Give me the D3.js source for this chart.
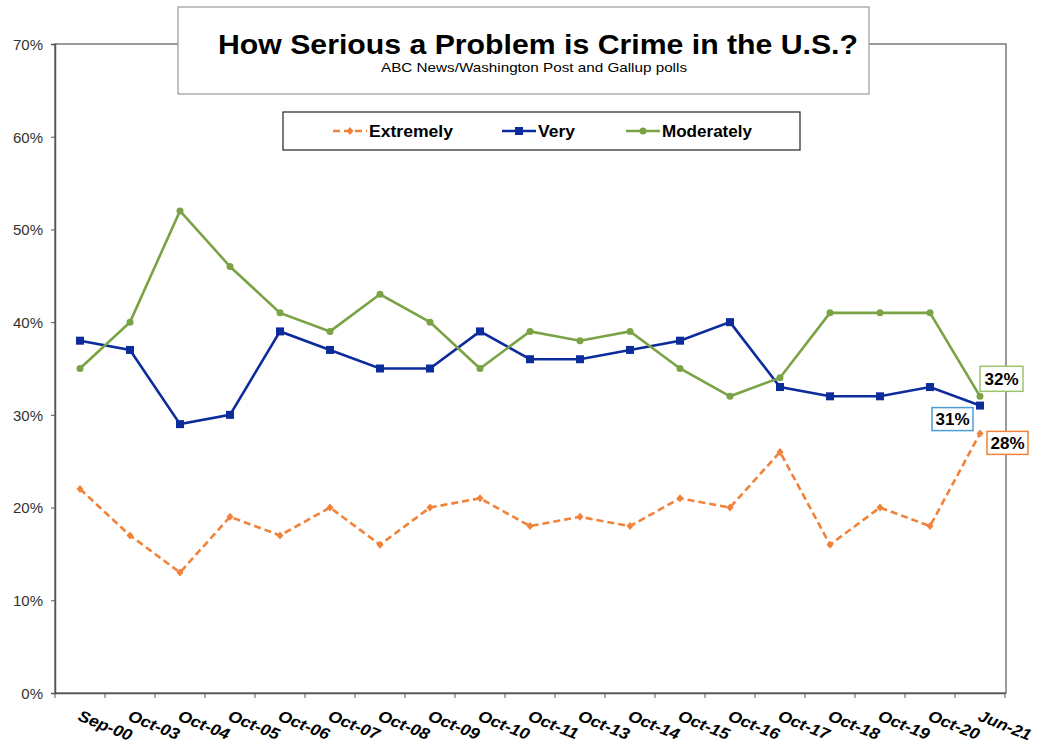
<!DOCTYPE html>
<html>
<head>
<meta charset="utf-8">
<script src="https://d3js.org/d3.v7.min.js"></script>
<style>
  body { margin: 0; background: #fff; }
  svg { display: block; font-family: Arial, "Liberation Sans", sans-serif; }
</style>
</head>
<body>
<svg id="chart" width="1037" height="745"></svg>
<script>
const categories = ['Sep-00', 'Oct-03', 'Oct-04', 'Oct-05', 'Oct-06', 'Oct-07', 'Oct-08', 'Oct-09', 'Oct-10',
  'Oct-11', 'Oct-13', 'Oct-14', 'Oct-15', 'Oct-16', 'Oct-17', 'Oct-18', 'Oct-19', 'Oct-20', 'Jun-21'];
const extremely = [22, 17, 13, 19, 17, 20, 16, 20, 21, 18, 19, 18, 21, 20, 26, 16, 20, 18, 28];
const very = [38, 37, 29, 30, 39, 37, 35, 35, 39, 36, 36, 37, 38, 40, 33, 32, 32, 33, 31];
const moderately = [35, 40, 52, 46, 41, 39, 43, 40, 35, 39, 38, 39, 35, 32, 34, 41, 41, 41, 32];
const yTicks = [0, 10, 20, 30, 40, 50, 60, 70];

const series = [
  { name: 'Extremely', values: extremely, color: '#F0823A', label: '#F0823A', dash: '7,4', marker: 'diamond' },
  { name: 'Very', values: very, color: '#0D2C9C', label: '#4A9ED8', dash: null, marker: 'square' },
  { name: 'Moderately', values: moderately, color: '#7BA346', label: '#9CC46E', dash: null, marker: 'circle' }
];

const svg = d3.select('#chart');
const plotLeft = 55, plotRight = 1005, plotTop = 44, plotBottom = 693;

const x = d3.scaleBand().domain(categories).range([plotLeft, plotRight]);
const y = d3.scaleLinear().domain([0, 70]).range([plotBottom, plotTop]);
const cx = c => x(c) + x.bandwidth() / 2;

// plot frame
svg.append('rect')
  .attr('x', plotLeft).attr('y', plotTop)
  .attr('width', plotRight - plotLeft + 1).attr('height', plotBottom - plotTop)
  .attr('fill', 'none').attr('stroke', '#666').attr('stroke-width', 1.3);

// y axis
const yAxis = svg.append('g')
  .attr('transform', `translate(${plotLeft},0)`)
  .call(d3.axisLeft(y).tickValues(yTicks).tickSize(4).tickPadding(8).tickFormat(d => d + '%'));
yAxis.select('.domain').attr('stroke', '#555').attr('stroke-width', 1.5);
yAxis.selectAll('.tick line').attr('stroke', '#555');
yAxis.selectAll('.tick text')
  .style('font-size', '15px').attr('fill', '#333').attr('dy', '0.36em')
  .style('font-family', 'Arial, "Liberation Sans", sans-serif');

// x axis: ticks at category boundaries
const xAxis = svg.append('g')
  .attr('transform', `translate(0,${plotBottom})`)
  .call(d3.axisBottom(x).tickSize(0).tickFormat(''));
xAxis.select('.domain').attr('stroke', '#555').attr('stroke-width', 1.5);
xAxis.selectAll('.tick').remove();
xAxis.selectAll('.bt')
  .data(d3.range(categories.length + 1))
  .join('line')
  .attr('x1', i => plotLeft + i * x.step()).attr('x2', i => plotLeft + i * x.step())
  .attr('y1', 0).attr('y2', 5)
  .attr('stroke', '#555').attr('stroke-width', 1);

svg.append('g').selectAll('text')
  .data(categories)
  .join('text')
  .attr('transform', c => `translate(${cx(c) - 3},${plotBottom + 27}) rotate(22) scale(1.08,1)`)
  .style('font-size', '16px').attr('font-weight', 'bold').attr('font-style', 'italic')
  .attr('fill', '#000')
  .text(c => c);

// lines and markers
const line = d3.line()
  .x((v, i) => cx(categories[i]))
  .y(v => y(v));

function drawMarker(g, s) {
  const pts = s.values.map((v, i) => ({ x: cx(categories[i]), y: y(v) }));
  if (s.marker === 'circle') {
    g.selectAll('circle').data(pts).join('circle')
      .attr('cx', p => p.x).attr('cy', p => p.y).attr('r', 3.5).attr('fill', s.color);
  } else if (s.marker === 'square') {
    g.selectAll('rect').data(pts).join('rect')
      .attr('x', p => p.x - 4).attr('y', p => p.y - 4).attr('width', 8).attr('height', 8).attr('fill', s.color);
  } else {
    g.selectAll('path').data(pts).join('path')
      .attr('d', p => `M${p.x},${p.y - 4}L${p.x + 3.5},${p.y}L${p.x},${p.y + 4}L${p.x - 3.5},${p.y}Z`)
      .attr('fill', s.color);
  }
}

series.forEach(s => {
  const g = svg.append('g');
  g.append('path')
    .attr('d', line(s.values))
    .attr('fill', 'none')
    .attr('stroke', s.color)
    .attr('stroke-width', 2.6)
    .attr('stroke-dasharray', s.dash);
  drawMarker(g.append('g'), s);
});

// end labels
const last = categories[categories.length - 1];
const endLabels = [
  { s: series[1], dx: -48, dy: 2, w: 41, h: 23 },
  { s: series[2], dx: 0, dy: -30, w: 43, h: 25 },
  { s: series[0], dx: 7, dy: -2, w: 41, h: 23 }
];
endLabels.forEach(l => {
  const v = l.s.values[l.s.values.length - 1];
  const bx = cx(last) + l.dx, by = y(v) + l.dy;
  svg.append('rect')
    .attr('x', bx).attr('y', by).attr('width', l.w).attr('height', l.h)
    .attr('fill', '#fff').attr('stroke', l.s.label).attr('stroke-width', 1.5);
  svg.append('text')
    .attr('x', bx + l.w / 2).attr('y', by + l.h / 2 + 6)
    .attr('text-anchor', 'middle')
    .style('font-size', '17px').attr('font-weight', 'bold')
    .text(v + '%');
});

// title box
svg.append('rect')
  .attr('x', 178).attr('y', 7).attr('width', 691).attr('height', 87)
  .attr('fill', '#fff').attr('stroke', '#999').attr('stroke-width', 1.2);
svg.append('text')
  .attr('x', 218).attr('y', 54)
  .style('font-size', '28px').attr('font-weight', 'bold')
  .attr('textLength', 640).attr('lengthAdjust', 'spacingAndGlyphs')
  .text('How Serious a Problem is Crime in the U.S.?');
svg.append('text')
  .attr('x', 381).attr('y', 72)
  .style('font-size', '13px')
  .attr('textLength', 306).attr('lengthAdjust', 'spacingAndGlyphs')
  .text('ABC News/Washington Post and Gallup polls');

// legend
svg.append('rect')
  .attr('x', 283).attr('y', 112).attr('width', 517).attr('height', 38)
  .attr('fill', '#fff').attr('stroke', '#222').attr('stroke-width', 1.2);
const legendX = [333, 502, 626];
const legendW = [84, 37, 90];
series.forEach((s, i) => {
  const g = svg.append('g').attr('transform', `translate(${legendX[i]},131)`);
  g.append('line')
    .attr('x1', 0).attr('x2', 34).attr('y1', 0).attr('y2', 0)
    .attr('stroke', s.color).attr('stroke-width', 2.6)
    .attr('stroke-dasharray', s.dash);
  const m = g.append('g');
  if (s.marker === 'circle') m.append('circle').attr('cx', 17).attr('r', 3.5).attr('fill', s.color);
  else if (s.marker === 'square') m.append('rect').attr('x', 13).attr('y', -4).attr('width', 8).attr('height', 8).attr('fill', s.color);
  else m.append('path').attr('d', 'M17,-4L20.5,0L17,4L13.5,0Z').attr('fill', s.color);
  g.append('text')
    .attr('x', 36).attr('y', 6)
    .style('font-size', '17px').attr('font-weight', 'bold')
    .attr('textLength', legendW[i]).attr('lengthAdjust', 'spacingAndGlyphs')
    .text(s.name);
});
</script>
</body>
</html>
